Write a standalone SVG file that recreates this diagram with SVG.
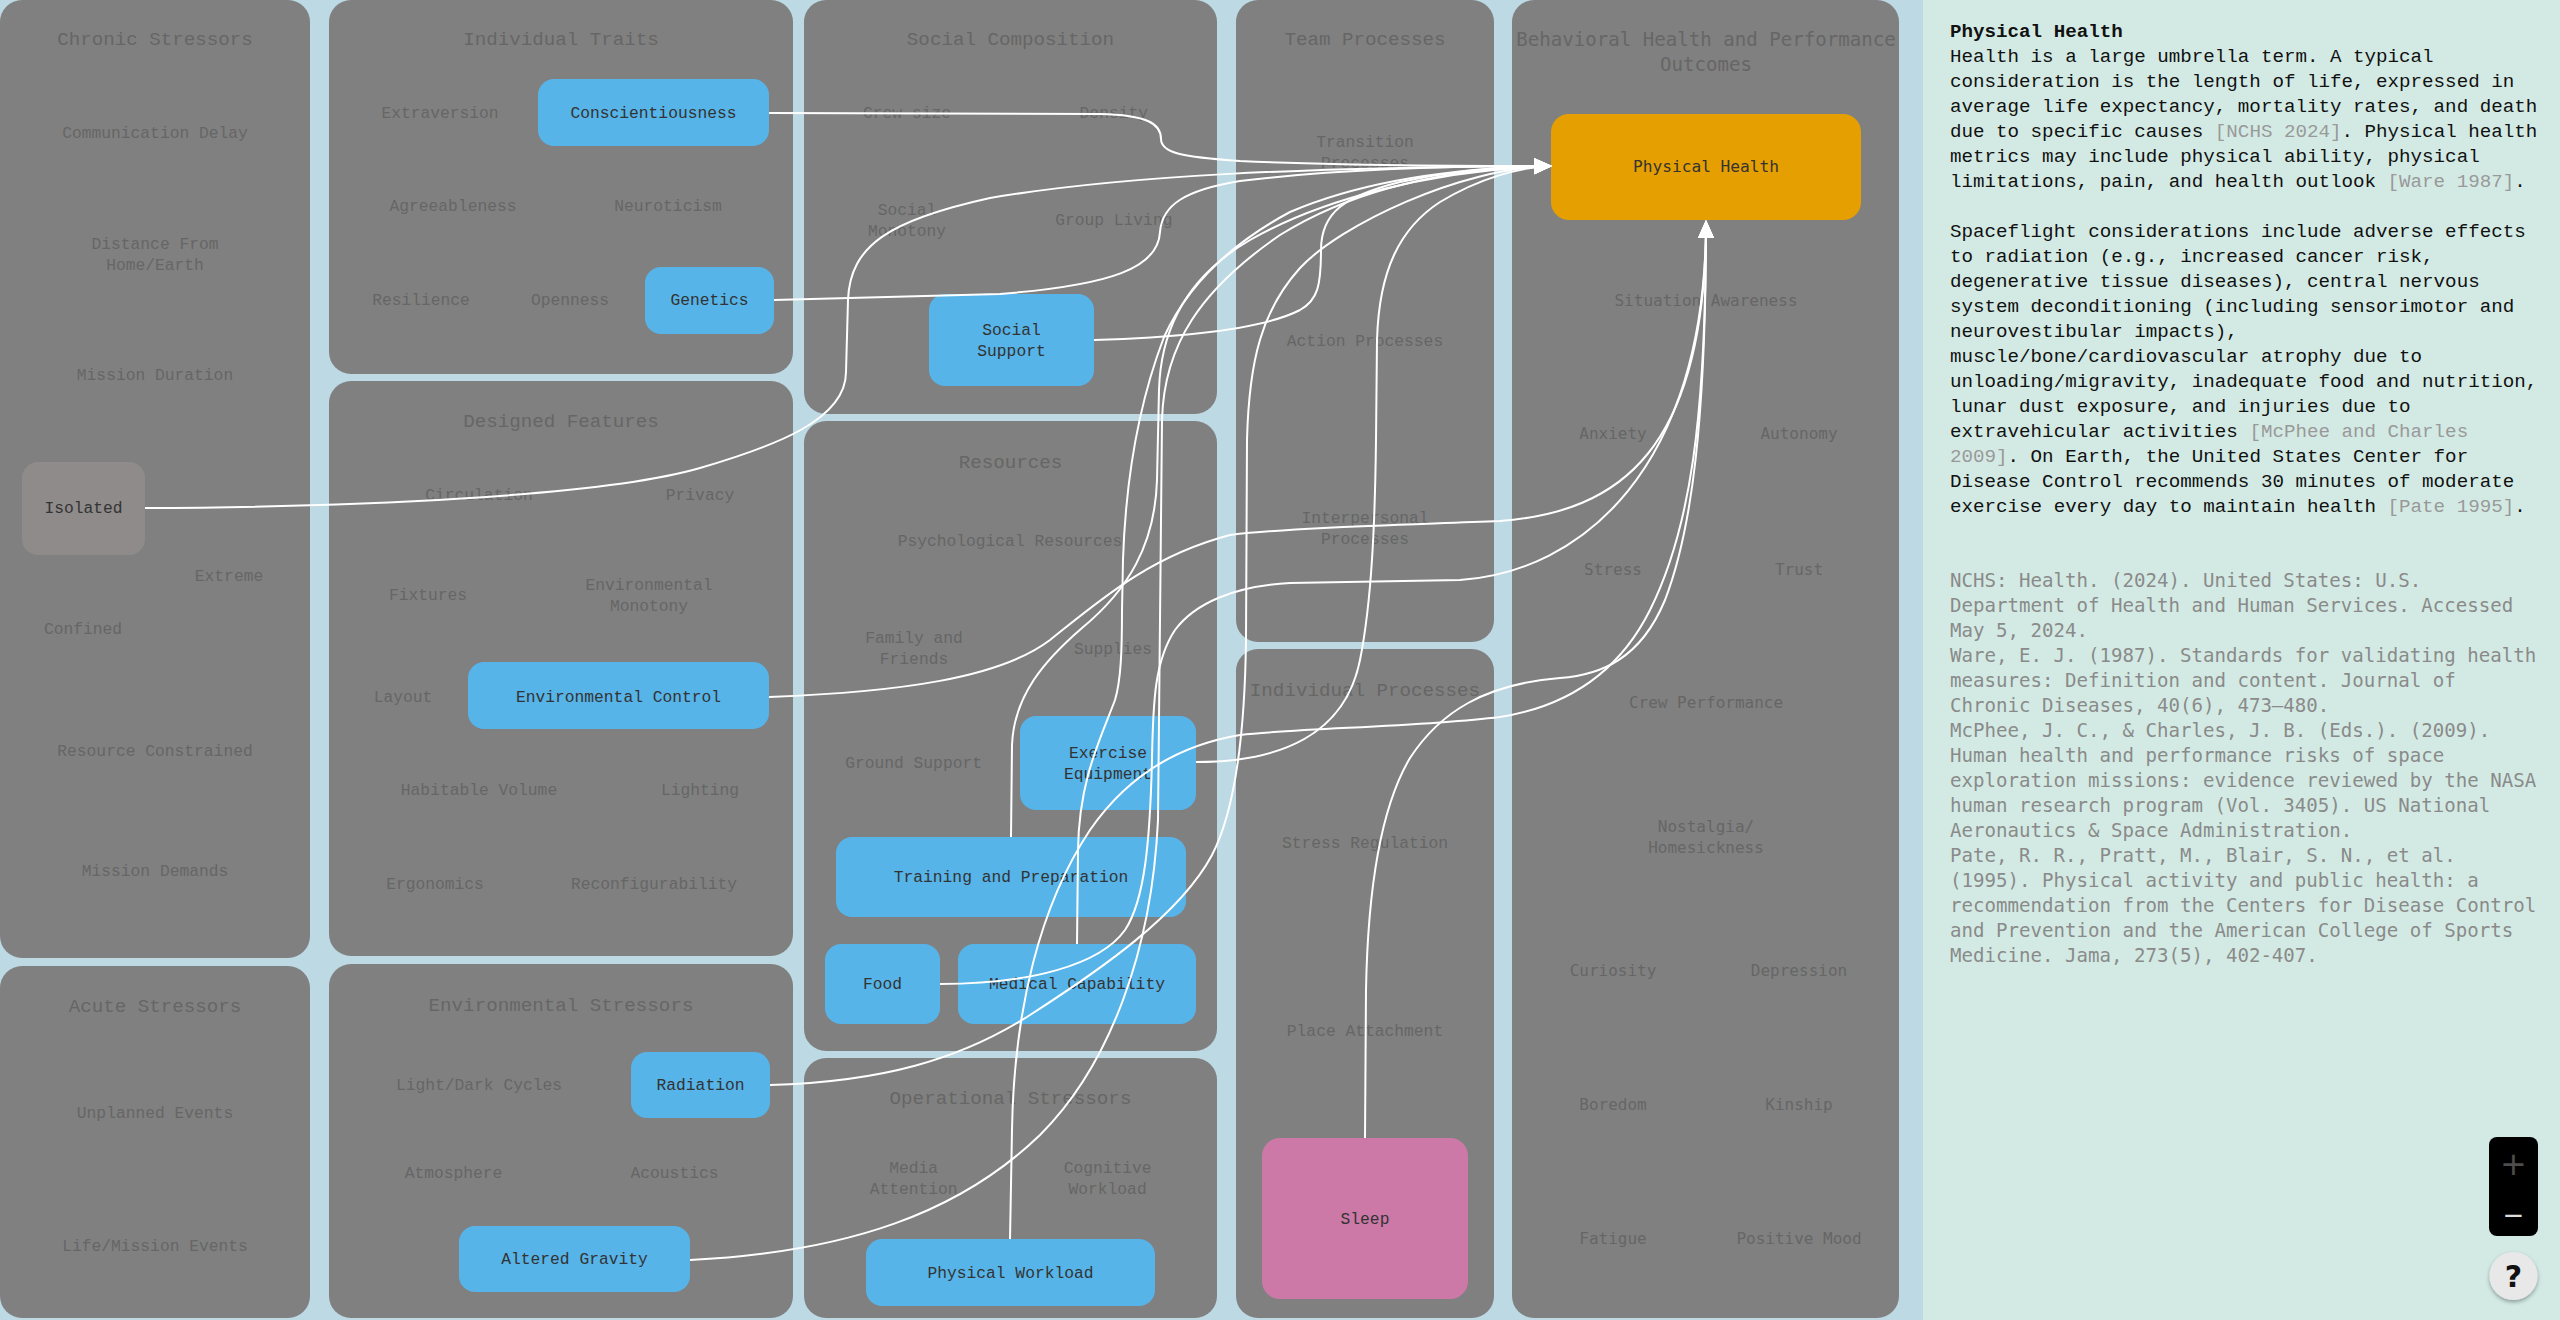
<svg xmlns="http://www.w3.org/2000/svg" width="2560" height="1320" viewBox="0 0 2560 1320">
<defs>
<style>
.g{fill:#808080}
.t{font-family:"Liberation Mono",monospace;font-size:19.2px;fill:#666;text-anchor:middle}
.i{font-family:"Liberation Mono",monospace;font-size:16.3px;fill:#666;text-anchor:middle}
.tb{font-family:"DejaVu Sans Mono",monospace;font-size:19.1px;fill:#666;text-anchor:middle}
.ib{font-family:"DejaVu Sans Mono",monospace;font-size:16px;fill:#666;text-anchor:middle}
.nb{fill:#56b4e9}
.nl{font-family:"Liberation Mono",monospace;font-size:16.3px;fill:#333;text-anchor:middle}
.e{fill:none;stroke:#fff;stroke-width:2}
.body{font-family:"Liberation Mono",monospace;font-size:19.2px;fill:#111}
.cite{fill:#999}
.ref{font-family:"DejaVu Sans Mono",monospace;font-size:19.1px;fill:#8a8a8a}
</style>
<marker id="ah" viewBox="0 0 18 16" refX="17" refY="8" markerWidth="18" markerHeight="16" markerUnits="userSpaceOnUse" orient="auto">
<path d="M0,0 L18,8 L0,16 z" fill="#fff"/>
</marker>
<filter id="sh" x="-30%" y="-30%" width="160%" height="160%">
<feDropShadow dx="0" dy="2" stdDeviation="2" flood-color="#000" flood-opacity="0.35"/>
</filter>
</defs>

<rect x="0" y="0" width="2560" height="1320" fill="#bcd9e4"/>

<!-- Column 1 -->
<g id="chronic-stressors">
<rect class="g" x="0" y="0" width="310" height="958" rx="22"/>
<text class="t" x="155" y="45">Chronic Stressors</text>
<text class="i" x="155" y="138">Communication Delay</text>
<text class="i" x="155" y="248.5">Distance From</text>
<text class="i" x="155" y="269.5">Home/Earth</text>
<text class="i" x="155" y="379.5">Mission Duration</text>
<text class="i" x="229" y="580.5">Extreme</text>
<text class="i" x="83" y="633.5">Confined</text>
<text class="i" x="155" y="755.5">Resource Constrained</text>
<text class="i" x="155" y="875.5">Mission Demands</text>
</g>
<g id="node-isolated">
<rect x="22" y="462" width="123" height="93" rx="16" fill="#8f8b8b"/>
<text class="nl" x="83.5" y="513.4">Isolated</text>
</g>
<g id="acute-stressors">
<rect class="g" x="0" y="966" width="310" height="352" rx="22"/>
<text class="t" x="155" y="1011.5">Acute Stressors</text>
<text class="i" x="155" y="1117.5">Unplanned Events</text>
<text class="i" x="155" y="1250.5">Life/Mission Events</text>
</g>

<!-- Column 2 -->
<g id="individual-traits">
<rect class="g" x="329" y="0" width="464" height="374" rx="22"/>
<text class="t" x="561" y="45">Individual Traits</text>
<text class="i" x="440" y="118.4">Extraversion</text>
<text class="i" x="453" y="211.4">Agreeableness</text>
<text class="i" x="668" y="211.4">Neuroticism</text>
<text class="i" x="421" y="305.4">Resilience</text>
<text class="i" x="570" y="305.4">Openness</text>
</g>
<g id="node-conscientiousness">
<rect class="nb" x="538" y="79" width="231" height="67" rx="16"/>
<text class="nl" x="653.5" y="118.4">Conscientiousness</text>
</g>
<g id="node-genetics">
<rect class="nb" x="645" y="267" width="129" height="67" rx="16"/>
<text class="nl" x="709.5" y="305.4">Genetics</text>
</g>
<g id="designed-features">
<rect class="g" x="329" y="381" width="464" height="575" rx="22"/>
<text class="t" x="561" y="426.5">Designed Features</text>
<text class="i" x="479" y="500">Circulation</text>
<text class="i" x="700" y="500">Privacy</text>
<text class="i" x="428" y="600.4">Fixtures</text>
<text class="i" x="649" y="590.4">Environmental</text>
<text class="i" x="649" y="611.4">Monotony</text>
<text class="i" x="403" y="702.4">Layout</text>
<text class="i" x="479" y="795.4">Habitable Volume</text>
<text class="i" x="700" y="795.4">Lighting</text>
<text class="i" x="435" y="888.6">Ergonomics</text>
<text class="i" x="654" y="888.6">Reconfigurability</text>
</g>
<g id="node-environmental-control">
<rect class="nb" x="468" y="662" width="301" height="67" rx="16"/>
<text class="nl" x="618.5" y="702.4">Environmental Control</text>
</g>
<g id="environmental-stressors">
<rect class="g" x="329" y="964" width="464" height="354" rx="22"/>
<text class="t" x="561" y="1010.5">Environmental Stressors</text>
<text class="i" x="479" y="1090.4">Light/Dark Cycles</text>
<text class="i" x="453.5" y="1177.9">Atmosphere</text>
<text class="i" x="674.5" y="1177.9">Acoustics</text>
</g>
<g id="node-radiation">
<rect class="nb" x="631" y="1052" width="139" height="66" rx="16"/>
<text class="nl" x="700.5" y="1090.4">Radiation</text>
</g>
<g id="node-altered-gravity">
<rect class="nb" x="459" y="1226" width="231" height="66" rx="16"/>
<text class="nl" x="574.5" y="1264.4">Altered Gravity</text>
</g>

<!-- Column 3 -->
<g id="social-composition">
<rect class="g" x="804" y="0" width="413" height="414" rx="22"/>
<text class="t" x="1010.5" y="45">Social Composition</text>
<text class="i" x="907" y="118.4">Crew size</text>
<text class="i" x="1113.8" y="118.4">Density</text>
<text class="i" x="907" y="215">Social</text>
<text class="i" x="907" y="236">Monotony</text>
<text class="i" x="1113.8" y="225.4">Group Living</text>
</g>
<g id="node-social-support">
<rect class="nb" x="929" y="294" width="165" height="92" rx="16"/>
<text class="nl" x="1011.5" y="335.4">Social</text>
<text class="nl" x="1011.5" y="356.4">Support</text>
</g>
<g id="resources">
<rect class="g" x="804" y="421" width="413" height="630" rx="22"/>
<text class="t" x="1010.5" y="467.5">Resources</text>
<text class="i" x="1010" y="546.4">Psychological Resources</text>
<text class="i" x="914" y="643.4">Family and</text>
<text class="i" x="914" y="664.4">Friends</text>
<text class="i" x="1113" y="654.4">Supplies</text>
<text class="i" x="913.6" y="768.4">Ground Support</text>
</g>
<g id="node-exercise-equipment">
<rect class="nb" x="1020" y="716" width="176" height="94" rx="16"/>
<text class="nl" x="1108" y="758.4">Exercise</text>
<text class="nl" x="1108" y="779.4">Equipment</text>
</g>
<g id="node-training">
<rect class="nb" x="836" y="837" width="350" height="80" rx="16"/>
<text class="nl" x="1011" y="882.2">Training and Preparation</text>
</g>
<g id="node-food">
<rect class="nb" x="825" y="944" width="115" height="80" rx="16"/>
<text class="nl" x="882.5" y="989.4">Food</text>
</g>
<g id="node-medical-capability">
<rect class="nb" x="958" y="944" width="238" height="80" rx="16"/>
<text class="nl" x="1077" y="989.4">Medical Capability</text>
</g>
<g id="operational-stressors">
<rect class="g" x="804" y="1058" width="413" height="260" rx="22"/>
<text class="t" x="1010.5" y="1104">Operational Stressors</text>
<text class="i" x="913.6" y="1173.4">Media</text>
<text class="i" x="913.6" y="1194.4">Attention</text>
<text class="i" x="1107.6" y="1173.4">Cognitive</text>
<text class="i" x="1107.6" y="1194.4">Workload</text>
</g>
<g id="node-physical-workload">
<rect class="nb" x="866" y="1239" width="289" height="67" rx="16"/>
<text class="nl" x="1010.5" y="1277.9">Physical Workload</text>
</g>

<!-- Column 4 -->
<g id="team-processes">
<rect class="g" x="1236" y="0" width="258" height="642" rx="22"/>
<text class="t" x="1365" y="45">Team Processes</text>
<text class="i" x="1365" y="147.4">Transition</text>
<text class="i" x="1365" y="168.4">Processes</text>
<text class="i" x="1365" y="346">Action Processes</text>
<text class="i" x="1365" y="523.4">Interpersonal</text>
<text class="i" x="1365" y="544.4">Processes</text>
</g>
<g id="individual-processes">
<rect class="g" x="1236" y="649" width="258" height="669" rx="22"/>
<text class="t" x="1365" y="695.5">Individual Processes</text>
<text class="i" x="1365" y="848.4">Stress Regulation</text>
<text class="i" x="1365" y="1036.4">Place Attachment</text>
</g>
<g id="node-sleep">
<rect x="1262" y="1138" width="206" height="161" rx="18" fill="#cc79a7"/>
<text class="nl" x="1365" y="1224.4">Sleep</text>
</g>

<!-- Column 5 -->
<g id="behavioral-outcomes">
<rect class="g" x="1512" y="0" width="387" height="1318" rx="22"/>
<text class="tb" x="1706" y="45.5">Behavioral Health and Performance</text>
<text class="tb" x="1706" y="70.5">Outcomes</text>
<text class="ib" x="1706" y="305.5">Situation Awareness</text>
<text class="ib" x="1613" y="439">Anxiety</text>
<text class="ib" x="1799" y="439">Autonomy</text>
<text class="ib" x="1613" y="574.5">Stress</text>
<text class="ib" x="1799" y="574.5">Trust</text>
<text class="ib" x="1706" y="708">Crew Performance</text>
<text class="ib" x="1706" y="831.5">Nostalgia/</text>
<text class="ib" x="1706" y="852.5">Homesickness</text>
<text class="ib" x="1613" y="976">Curiosity</text>
<text class="ib" x="1799" y="976">Depression</text>
<text class="ib" x="1613" y="1110">Boredom</text>
<text class="ib" x="1799" y="1110">Kinship</text>
<text class="ib" x="1613" y="1244.2">Fatigue</text>
<text class="ib" x="1799" y="1244.2">Positive Mood</text>
</g>
<g id="node-physical-health">
<rect x="1551" y="114" width="310" height="106" rx="18" fill="#e69f00"/>
<text x="1706" y="171.5" text-anchor="middle" font-family="DejaVu Sans Mono, monospace" font-size="16.2" fill="#333">Physical Health</text>
</g>

<!-- Connectors -->
<g id="connectors">
<path class="e" marker-end="url(#ah)" d="M769,113 L1100,114 C1148,115 1161,124 1161,139 C1161,153 1182,157 1240,161 C1330,165 1450,166 1551,166"/>
<path class="e" marker-end="url(#ah)" d="M774,300 L1000,294 C1112,285 1158,268 1160,232 C1162,205 1185,190 1240,181 C1330,170 1450,166 1551,166"/>
<path class="e" marker-end="url(#ah)" d="M145,508 C350,507 600,497 700,468 C775,446 846,420 846,372 L848,300 C850,245 890,220 990,198 C1120,176 1300,167 1551,166"/>
<path class="e" marker-end="url(#ah)" d="M1094,340 C1190,337 1265,328 1300,310 C1318,300 1321,285 1321,250 C1321,212 1345,196 1400,182 C1450,171 1500,166 1551,166"/>
<path class="e" marker-end="url(#ah)" d="M1196,762 C1280,762 1345,735 1360,660 C1372,600 1375,520 1376,440 L1377,340 C1379,270 1400,228 1440,202 C1480,178 1520,167 1551,166"/>
<path class="e" marker-end="url(#ah)" d="M770,1085 C880,1082 960,1060 1030,1015 C1100,970 1180,915 1212,855 C1238,805 1245,720 1246,640 L1247,440 C1249,360 1262,310 1300,268 C1340,225 1460,168 1551,166"/>
<path class="e" marker-end="url(#ah)" d="M1011,837 L1012,745 C1014,695 1045,660 1082,628 C1128,590 1155,545 1157,480 L1159,390 C1161,320 1195,272 1250,240 C1320,200 1430,170 1551,166"/>
<path class="e" marker-end="url(#ah)" d="M1077,944 L1078,850 C1079,780 1100,740 1115,700 C1121,680 1122,650 1122,610 L1123,560 C1126,470 1140,400 1164,337 C1190,280 1236,241 1290,212 C1360,182 1450,168 1551,166"/>
<path class="e" marker-end="url(#ah)" d="M690,1260 C850,1252 960,1212 1040,1135 C1110,1065 1152,950 1158,820 L1162,420 C1164,345 1200,290 1280,235 C1360,185 1460,168 1551,166"/>
<path class="e" marker-end="url(#ah)" d="M769,697 C900,692 1000,678 1050,640 C1100,600 1150,556 1230,535 C1300,527 1400,525 1500,521 C1620,512 1706,450 1706,221"/>
<path class="e" marker-end="url(#ah)" d="M940,984 C1030,984 1100,965 1125,930 C1145,900 1150,840 1152,760 C1153,700 1155,660 1175,630 C1195,603 1235,586 1290,583 L1460,580 C1580,572 1706,470 1706,221"/>
<path class="e" marker-end="url(#ah)" d="M1365,1138 L1366,990 C1368,880 1382,805 1410,758 C1440,712 1485,684 1560,678 C1600,675 1640,660 1665,600 C1692,530 1706,420 1706,221"/>
<path class="e" marker-end="url(#ah)" d="M1010,1239 L1012,1130 C1014,1010 1040,905 1090,830 C1128,775 1180,745 1240,735 C1300,728 1420,727 1500,717 C1570,706 1620,670 1650,610 C1690,530 1706,420 1706,221"/>
</g>

<!-- Side panel -->
<g id="info-panel">
<rect x="1923" y="0" width="637" height="1320" fill="#d3eae4"/>
<text class="body" x="1950" y="37" font-weight="bold">Physical Health</text>
<text class="body" x="1950" y="62">Health is a large umbrella term. A typical</text>
<text class="body" x="1950" y="87">consideration is the length of life, expressed in</text>
<text class="body" x="1950" y="112">average life expectancy, mortality rates, and death</text>
<text class="body" x="1950" y="137">due to specific causes <tspan class="cite">[NCHS 2024]</tspan>. Physical health</text>
<text class="body" x="1950" y="162">metrics may include physical ability, physical</text>
<text class="body" x="1950" y="187">limitations, pain, and health outlook <tspan class="cite">[Ware 1987]</tspan>.</text>
<text class="body" x="1950" y="237">Spaceflight considerations include adverse effects</text>
<text class="body" x="1950" y="262">to radiation (e.g., increased cancer risk,</text>
<text class="body" x="1950" y="287">degenerative tissue diseases), central nervous</text>
<text class="body" x="1950" y="312">system deconditioning (including sensorimotor and</text>
<text class="body" x="1950" y="337">neurovestibular impacts),</text>
<text class="body" x="1950" y="362">muscle/bone/cardiovascular atrophy due to</text>
<text class="body" x="1950" y="387">unloading/migravity, inadequate food and nutrition,</text>
<text class="body" x="1950" y="412">lunar dust exposure, and injuries due to</text>
<text class="body" x="1950" y="437">extravehicular activities <tspan class="cite">[McPhee and Charles</tspan></text>
<text class="body" x="1950" y="462"><tspan class="cite">2009]</tspan>. On Earth, the United States Center for</text>
<text class="body" x="1950" y="487">Disease Control recommends 30 minutes of moderate</text>
<text class="body" x="1950" y="512">exercise every day to maintain health <tspan class="cite">[Pate 1995]</tspan>.</text>
<text class="ref" x="1950" y="587">NCHS: Health. (2024). United States: U.S.</text>
<text class="ref" x="1950" y="612">Department of Health and Human Services. Accessed</text>
<text class="ref" x="1950" y="637">May 5, 2024.</text>
<text class="ref" x="1950" y="662">Ware, E. J. (1987). Standards for validating health</text>
<text class="ref" x="1950" y="687">measures: Definition and content. Journal of</text>
<text class="ref" x="1950" y="712">Chronic Diseases, 40(6), 473–480.</text>
<text class="ref" x="1950" y="737">McPhee, J. C., &amp; Charles, J. B. (Eds.). (2009).</text>
<text class="ref" x="1950" y="762">Human health and performance risks of space</text>
<text class="ref" x="1950" y="787">exploration missions: evidence reviewed by the NASA</text>
<text class="ref" x="1950" y="812">human research program (Vol. 3405). US National</text>
<text class="ref" x="1950" y="837">Aeronautics &amp; Space Administration.</text>
<text class="ref" x="1950" y="862">Pate, R. R., Pratt, M., Blair, S. N., et al.</text>
<text class="ref" x="1950" y="887">(1995). Physical activity and public health: a</text>
<text class="ref" x="1950" y="912">recommendation from the Centers for Disease Control</text>
<text class="ref" x="1950" y="937">and Prevention and the American College of Sports</text>
<text class="ref" x="1950" y="962">Medicine. Jama, 273(5), 402-407.</text>
</g>

<g id="zoom-controls">
<rect x="2489" y="1137" width="49" height="99" rx="8" fill="#000"/>
<text x="2513.5" y="1175" text-anchor="middle" font-family="DejaVu Sans, sans-serif" font-size="32" fill="#4d4d4d">+</text>
<text x="2513.5" y="1224" text-anchor="middle" font-family="DejaVu Sans, sans-serif" font-size="26" fill="#ddd">−</text>
</g>
<g id="help-button">
<circle cx="2513.5" cy="1276" r="24" fill="#e8e8e8" filter="url(#sh)"/>
<text x="2513.5" y="1287" text-anchor="middle" font-family="DejaVu Sans, sans-serif" font-size="30" font-weight="bold" fill="#111">?</text>
</g>
</svg>
